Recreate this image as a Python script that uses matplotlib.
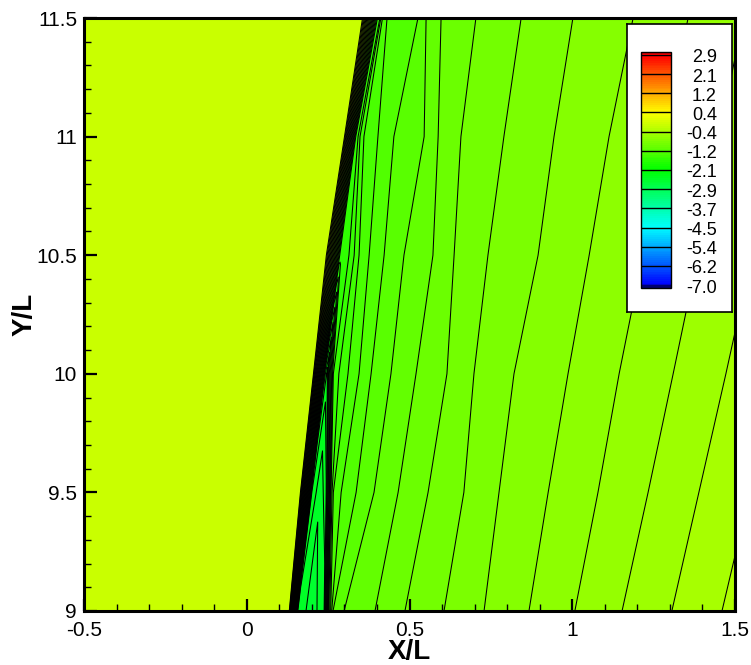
import numpy as np
import matplotlib
matplotlib.use("Agg")
import matplotlib.pyplot as plt
from matplotlib import transforms
from matplotlib.colors import LinearSegmentedColormap, Normalize

plt.rcParams['font.family'] = ['Liberation Sans', 'DejaVu Sans']
plt.rcParams['axes.unicode_minus'] = False

# ---- contour levels (flood + lines), labelled every tenth level ----
LEVELS = np.linspace(-7.0, 2.9, 121)
LEGEND_LABELS = ['-7.0', '-6.2', '-5.4', '-4.5', '-3.7', '-2.9', '-2.1',
                 '-1.2', '-0.4', '0.4', '1.2', '2.1', '2.9']

# ---- field samples along rows of constant Y/L ----
Y_ROWS = [9.0, 9.5, 10.0, 10.5, 11.0, 11.5]
FREESTREAM = -0.1                      # value ahead of the shock

# shock front: upstream / downstream edge
SHOCK_UP = [0.130, 0.164, 0.204, 0.243, 0.299, 0.354]
SHOCK_DOWN = [0.157, 0.200, 0.240, 0.287, 0.336, 0.403]
SHOCK_DOWN_V = [-2.40, -2.30, -2.10, -1.60, -1.60, -1.60]

# low-value core between the shock and the slip layer
CORE_X = [0.197, 0.225, 0.247, 0.289, 0.337, 0.405]
CORE_V = [-2.50, -2.45, -2.25, -1.60, -1.60, -1.60]

# slip layer (merges into the shock above Y/L ~ 10.3)
SLIP_X = [0.237, 0.2435, 0.2496, 0.291, 0.339, 0.406]
SLIP_V = [-2.42, -2.32, -2.10, -1.60, -1.60, -1.60]

# crossings of contour levels 66..81 in each row (X/L)
ISO_FIRST, ISO_LAST = 66, 81
ISO_X = [
    [0.252, 0.255, 0.258, 0.261, 0.265, 0.299, 0.394, 0.486, 0.606, 0.729, 0.867, 1.008, 1.153, 1.306, 1.460, 1.614],
    [0.259, 0.262, 0.266, 0.290, 0.336, 0.391, 0.465, 0.557, 0.667, 0.775, 0.926, 1.079, 1.233, 1.389, 1.546, 1.700],
    [0.266, 0.283, 0.311, 0.345, 0.382, 0.443, 0.520, 0.615, 0.698, 0.821, 0.987, 1.144, 1.310, 1.472, 1.635, 1.798],
    [0.314, 0.330, 0.345, 0.376, 0.422, 0.483, 0.572, 0.637, 0.741, 0.895, 1.052, 1.217, 1.386, 1.552, 1.718, 1.884],
    [0.342, 0.348, 0.360, 0.403, 0.452, 0.545, 0.588, 0.658, 0.790, 0.944, 1.113, 1.279, 1.451, 1.626, 1.798, 1.970],
    [0.409, 0.412, 0.417, 0.431, 0.526, 0.551, 0.597, 0.704, 0.843, 1.002, 1.187, 1.356, 1.525, 1.694, 1.863, 2.032],
]

X_TICKS = [-0.5, 0.0, 0.5, 1.0, 1.5]
Y_TICKS = [9.0, 9.5, 10.0, 10.5, 11.0, 11.5]

# ---- structured grid built from the row samples ----
n = len(Y_ROWS)
iso_v = LEVELS[ISO_FIRST:ISO_LAST + 1]
X = np.column_stack([np.full(n, -0.5), SHOCK_UP, SHOCK_DOWN, CORE_X, SLIP_X,
                     np.array(ISO_X)])
Z = np.column_stack([np.full(n, FREESTREAM), np.full(n, FREESTREAM),
                     SHOCK_DOWN_V, CORE_V, SLIP_V, np.tile(iso_v, (n, 1))])
Y = np.repeat(np.array(Y_ROWS)[:, None], X.shape[1], axis=1)

cmap = LinearSegmentedColormap.from_list(
    'rainbow5', [(0.0, '#0000ff'), (0.25, '#00ffff'), (0.5, '#00ff00'),
                 (0.75, '#ffff00'), (1.0, '#ff0000')], N=512)
cmap = cmap.with_extremes(under='#000070', over='#e00000')
norm = Normalize(vmin=LEVELS[0], vmax=LEVELS[-1])

fig = plt.figure(figsize=(7.51, 6.65), dpi=100)
W, H = 751.0, 665.0
ax = fig.add_axes([84 / W, 1 - 611 / H, 651 / W, 593 / H])

cf = ax.contourf(X, Y, Z, levels=LEVELS, cmap=cmap, norm=norm, extend='both')
ax.contour(X, Y, Z, levels=LEVELS, colors='k', linewidths=0.75,
           linestyles='solid')

ax.set_xlim(-0.5, 1.5)
ax.set_ylim(9.0, 11.5)
ax.set_xticks(X_TICKS)
ax.set_xticklabels(['%g' % v for v in X_TICKS])
ax.set_yticks(Y_TICKS)
ax.set_yticklabels(['%g' % v for v in Y_TICKS])
ax.set_xticks(np.arange(-0.5, 1.51, 0.1), minor=True)
ax.set_yticks(np.arange(9.0, 11.51, 0.1), minor=True)
ax.tick_params(which='major', direction='in', length=9, width=1.6,
               labelsize=15, top=False, right=False)
ax.tick_params(axis='x', which='major', pad=7)
ax.tick_params(axis='y', which='major', pad=5)
ax.tick_params(which='minor', direction='in', length=5, width=1.0,
               top=False, right=False)
for s in ax.spines.values():
    s.set_linewidth(2.2)

ax.set_xlabel('X/L', fontsize=20, fontweight='bold')
ax.set_ylabel('Y/L', fontsize=20, fontweight='bold')
ax.xaxis.set_label_coords(0.5, -0.048)
ax.yaxis.set_label_coords(-0.072, 0.5)

# ---- legend box with the colour bar ----
box = fig.add_axes([627 / W, 1 - 312 / H, 105 / W, 288 / H])
box.set_facecolor('white')
box.set_xticks([])
box.set_yticks([])
for s in box.spines.values():
    s.set_linewidth(1.2)

cax = fig.add_axes([641 / W, 1 - 288 / H, 30 / W, 236 / H])
cb = fig.colorbar(cf, cax=cax, extendrect=True, extendfrac=0.013)
cb.set_ticks([])
cb.outline.set_linewidth(1.0)
label_tf = (transforms.blended_transform_factory(cax.transAxes, cax.transData)
            + transforms.ScaledTranslation(0, -3 / 100, fig.dpi_scale_trans))
for v, lab in zip(LEVELS[::10], LEGEND_LABELS):
    cax.axhline(v, color='k', linewidth=1.0)
    cax.text(2.53, v, lab, transform=label_tf, ha='right', va='center',
             fontsize=13, clip_on=False)

fig.savefig('out.png', dpi=100)
